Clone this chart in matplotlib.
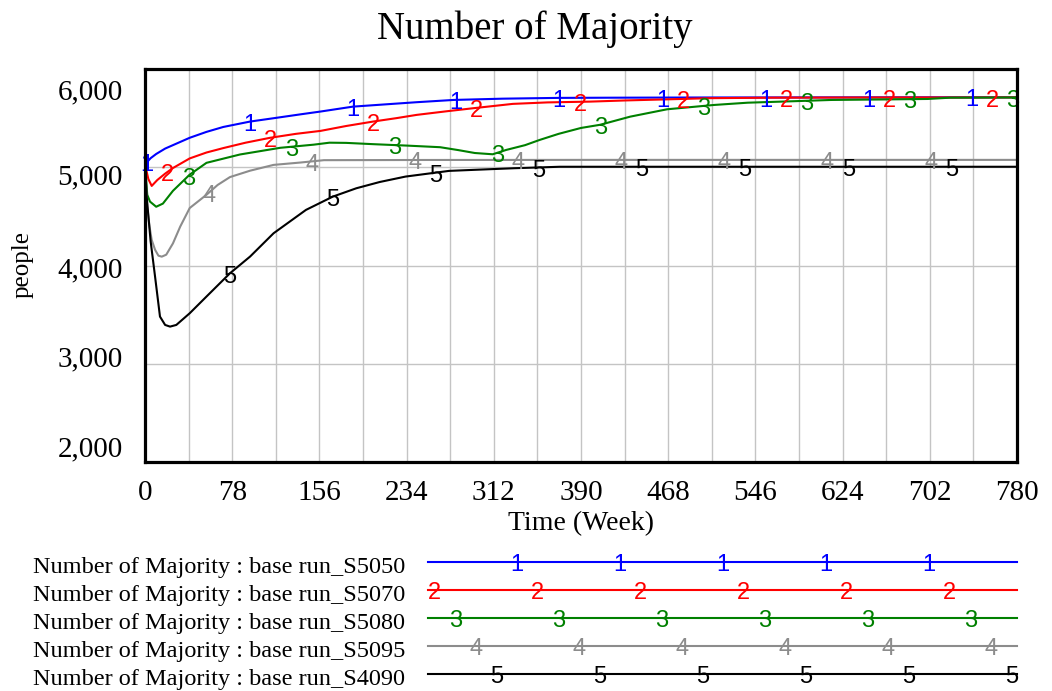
import numpy as np
import matplotlib
matplotlib.use("Agg")
import matplotlib.pyplot as plt
from matplotlib.transforms import offset_copy, blended_transform_factory

# ---------------- data ----------------
title = "Number of Majority"
x_label = "Time (Week)"
y_label = "people"
series_names = ["Number of Majority : base run_S5050",
                "Number of Majority : base run_S5070",
                "Number of Majority : base run_S5080",
                "Number of Majority : base run_S5095",
                "Number of Majority : base run_S4090"]
series_colors = ["#0000ff", "#ff0000", "#008000", "#8c8c8c", "#000000"]

t1 = [0, 5, 10, 18, 28, 40, 55, 70, 94, 115, 140, 157, 186, 215, 243, 276, 320, 370, 420, 500, 600, 700, 780]
v1 = [5030, 5092, 5135, 5190, 5240, 5300, 5360, 5410, 5465, 5499, 5540, 5567, 5617, 5640, 5662, 5685, 5698, 5706, 5708, 5710, 5711, 5712, 5712]

t2 = [0, 3, 6, 11, 18, 25, 40, 55, 70, 90, 112, 135, 157, 180, 204, 225, 243, 270, 293, 329, 360, 398, 430, 470, 505, 560, 650, 780]
v2 = [5030, 4880, 4810, 4870, 4935, 4992, 5090, 5150, 5195, 5250, 5300, 5340, 5370, 5420, 5465, 5500, 5533, 5570, 5600, 5645, 5660, 5668, 5680, 5692, 5703, 5708, 5710, 5711]

t3 = [0, 2, 4.5, 10, 16, 25, 40, 55, 85, 121, 151, 165, 180, 204, 235, 264, 280, 295, 311, 323, 340, 353, 370, 390, 407, 434, 467, 509, 539, 580, 614, 660, 700, 720, 780]
v3 = [5030, 4720, 4650, 4598, 4630, 4760, 4925, 5045, 5130, 5198, 5230, 5250, 5248, 5235, 5220, 5204, 5175, 5145, 5132, 5176, 5225, 5278, 5340, 5400, 5432, 5515, 5590, 5634, 5657, 5672, 5685, 5690, 5695, 5708, 5710]

t4 = [0, 2, 4, 6, 9, 12, 15, 19, 25, 31.5, 40, 55, 65, 76, 94, 115, 139, 160, 250, 400, 780]
v4 = [5030, 4600, 4400, 4260, 4160, 4100, 4090, 4110, 4225, 4396, 4585, 4720, 4820, 4900, 4965, 5024, 5048, 5072, 5074, 5075, 5075]

t5 = [0, 1.5, 5, 9, 13.4, 18, 22.4, 28, 40, 55, 76, 94, 115, 144, 168, 189, 210, 233, 272, 293, 330, 371, 450, 780]
v5 = [5030, 4700, 4250, 3887, 3480, 3395, 3378, 3395, 3514, 3684, 3921, 4091, 4328, 4566, 4701, 4786, 4850, 4905, 4963, 4973, 4990, 5005, 5005, 5005]

x_ticks = [0, 78, 156, 234, 312, 390, 468, 546, 624, 702, 780]
y_ticks = [2000, 3000, 4000, 5000, 6000]
y_tick_labels = ["2,000", "3,000", "4,000", "5,000", "6,000"]

times = [t1, t2, t3, t4, t5]
values = [v1, v2, v3, v4, v5]

# ---------------- figure ----------------
W, H = 1052, 691
fig = plt.figure(figsize=(W / 100, H / 100), dpi=100)
serif = "Liberation Serif"
sans = "Liberation Sans"

ax = fig.add_axes([145 / W, 1 - 462 / H, 872 / W, 393 / H])
ax.set_xlim(0, 780)
ax.set_ylim(y_ticks[0], y_ticks[-1])

# grid
for gx in np.arange(39, 780, 39):
    ax.axvline(gx, color="#c4c4c4", lw=1.0, zorder=1)
for gy in y_ticks[1:-1]:
    ax.axhline(gy, color="#c4c4c4", lw=1.0, zorder=1)

ax.set_xticks([])
ax.set_yticks([])
for s in ax.spines.values():
    s.set_linewidth(2.3)
    s.set_color("black")
    s.set_zorder(5)

# series
for k in range(5):
    ax.plot(times[k], values[k], color=series_colors[k], lw=1.5, zorder=3)
    tr = offset_copy(ax.transData, fig=fig, x=0, y=-0.5, units="points")
    tl = 1.8 + 18.5 * k
    while tl <= 780:
        yl = np.interp(tl, times[k], values[k])
        ax.text(tl, yl, str(k + 1), color=series_colors[k], fontsize=17,
                family=sans, ha="center", va="center_baseline", transform=tr, zorder=4)
        tl += 92.2

# tick labels
bx = blended_transform_factory(ax.transData, fig.transFigure)
for xt in x_ticks:
    ax.text(xt, 1 - 500 / H, str(xt), transform=bx, ha="center", va="baseline",
            fontsize=21, family=serif)
label_base = [456, 366, 277, 184, 99]
for lab, yb in zip(y_tick_labels, label_base):
    fig.text(123 / W, 1 - yb / H, lab, ha="right", va="baseline", fontsize=21, family=serif)

fig.text(535 / W, 1 - 39.5 / H, title, ha="center", va="baseline", fontsize=28, family=serif)
fig.text(581 / W, 1 - 530 / H, x_label, ha="center", va="baseline", fontsize=20, family=serif)
fig.text(22.5 / W, 1 - 264.5 / H, y_label, ha="center", va="center", rotation=90,
         fontsize=18, family=serif)

# legend area
lg = fig.add_axes([0, 0, 1, 1], zorder=10)
lg.set_xlim(0, W)
lg.set_ylim(H, 0)
lg.axis("off")
lg.patch.set_alpha(0)
row_y = [562, 590, 618, 646, 674]
for k in range(5):
    y = row_y[k]
    lg.plot([428, 1017], [y, y], color=series_colors[k], lw=1.5)
    lg.text(405, y + 10.5, series_names[k], ha="right", va="baseline", fontsize=17.5, family=serif)
    px = 414 + 20.7 * k
    while px <= 1017:
        if px >= 428:
            lg.text(px, y + 0.5, str(k + 1), color=series_colors[k], fontsize=17, family=sans,
                    ha="center", va="center_baseline")
        px += 103

fig.savefig("out.png", dpi=100)
